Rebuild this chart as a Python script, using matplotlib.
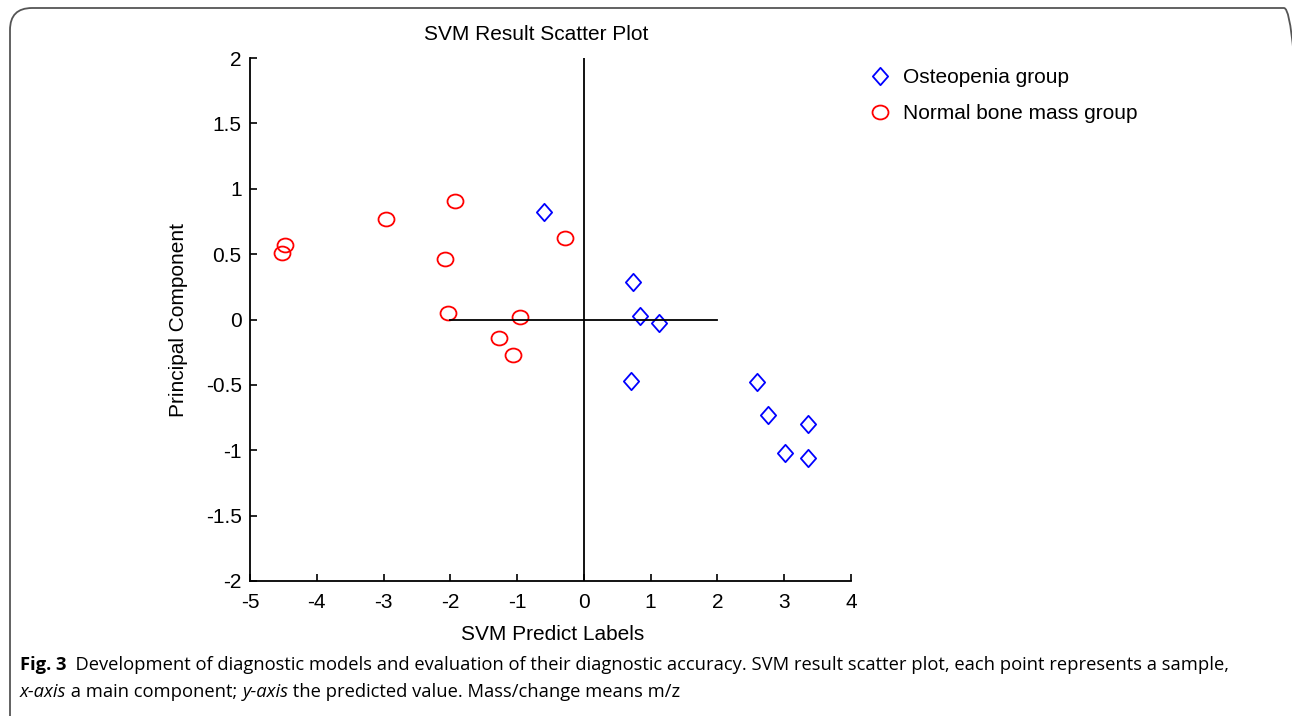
import matplotlib
matplotlib.use('Agg')
import matplotlib.pyplot as plt
from matplotlib.path import Path
from matplotlib.patches import FancyBboxPatch
from matplotlib.transforms import IdentityTransform

# osteopenia group (blue diamonds)
osteo_x = [-0.59, 0.74, 0.84, 1.13, 0.70, 2.59, 2.75, 3.35, 3.01, 3.35]
osteo_y = [0.82, 0.29, 0.03, -0.03, -0.47, -0.48, -0.73, -0.80, -1.02, -1.06]

# normal bone mass group (red circles)
normal_x = [-4.52, -4.48, -2.96, -1.93, -2.08, -2.04, -0.28, -0.96, -1.27, -1.06]
normal_y = [0.51, 0.57, 0.77, 0.91, 0.46, 0.05, 0.62, 0.02, -0.14, -0.27]

xticks = [-5, -4, -3, -2, -1, 0, 1, 2, 3, 4]
yticks = [-2, -1.5, -1, -0.5, 0, 0.5, 1, 1.5, 2]
ytick_labels = ['-2', '-1.5', '-1', '-0.5', '0', '0.5', '1', '1.5', '2']

W, H = 1292, 716
FS = 15
fig = plt.figure(figsize=(W / 100, H / 100), dpi=100)
plt.rcParams['font.family'] = ['Liberation Sans', 'DejaVu Sans']

# outer rounded frame in pixel coords (right and bottom edges run off the picture)
frame = FancyBboxPatch((10, -40), 1306 - 10, (H - 8) + 40,
                       boxstyle='round,pad=0,rounding_size=22',
                       transform=IdentityTransform(), fill=False,
                       edgecolor='#555555', linewidth=1.3, clip_on=False)
fig.patches.append(frame)

ax = fig.add_axes([250 / W, 1 - 581 / H, (851 - 250) / W, (581 - 58) / H])

diamond = Path([(0, 1), (0.88, 0), (0, -1), (-0.88, 0), (0, 1)],
               [Path.MOVETO, Path.LINETO, Path.LINETO, Path.LINETO, Path.CLOSEPOLY])
circ = Path.unit_circle()
ellipse = Path(circ.vertices * [1.0, 0.87], circ.codes)

ax.plot(osteo_x, osteo_y, linestyle='none', marker=diamond, markersize=12.5,
        markerfacecolor='none', markeredgecolor='#0000ff', markeredgewidth=1.3,
        label='Osteopenia group')
ax.plot(normal_x, normal_y, linestyle='none', marker=ellipse, markersize=11.5,
        markerfacecolor='none', markeredgecolor='#ff0000', markeredgewidth=1.3,
        label='Normal bone mass group')

# cross lines
ax.plot([0, 0], [-2, 2], color='black', linewidth=1.3)
ax.plot([-2, 2], [0, 0], color='black', linewidth=1.3)

ax.set_xlim(-5, 4)
ax.set_ylim(-2, 2)
ax.set_xticks(xticks)
ax.set_xticklabels([str(v) for v in xticks])
ax.set_yticks(yticks)
ax.set_yticklabels(ytick_labels)
ax.tick_params(direction='in', length=5, width=1.2, labelsize=FS)
ax.tick_params(axis='x', pad=9)
ax.tick_params(axis='y', pad=6)
for s in ['top', 'right']:
    ax.spines[s].set_visible(False)
for s in ['left', 'bottom']:
    ax.spines[s].set_linewidth(1.3)

fig.text(536 / W, 1 - 35 / H, 'SVM Result Scatter Plot', fontsize=FS,
         ha='center', va='center')
fig.text(553 / W, 1 - 635 / H, 'SVM Predict Labels', fontsize=FS,
         ha='center', va='center')
fig.text(178 / W, 1 - 320 / H, 'Principal Component', fontsize=FS,
         ha='center', va='center', rotation=90)

ax.legend(loc='upper left', bbox_to_anchor=(859 / W, 1 - 58 / H),
          bbox_transform=fig.transFigure, frameon=False, fontsize=FS,
          handlelength=1.0, handletextpad=0.62, labelspacing=0.8, borderpad=0)

# caption
cap_font = ['Open Sans', 'DejaVu Sans']
CFS = 13.2
fig.canvas.draw()
r = fig.canvas.get_renderer()


def run_line(y, parts, x0=20):
    x = x0
    for s, st, wt in parts:
        t = fig.text(x / W, 1 - y / H, s, fontsize=CFS, style=st, fontweight=wt,
                     family=cap_font, va='center', ha='left')
        x = t.get_window_extent(r).x1
    return x


run_line(665, [('Fig. 3', 'normal', 'bold'),
               ('  Development of diagnostic models and evaluation of their diagnostic '
                'accuracy. SVM result scatter plot, each point represents a sample,',
                'normal', 'normal')])
run_line(692, [('x-axis', 'italic', 'normal'),
               (' a main component; ', 'normal', 'normal'),
               ('y-axis', 'italic', 'normal'),
               (' the predicted value. Mass/change means m/z', 'normal', 'normal')])

fig.savefig('out.png', dpi=100)
